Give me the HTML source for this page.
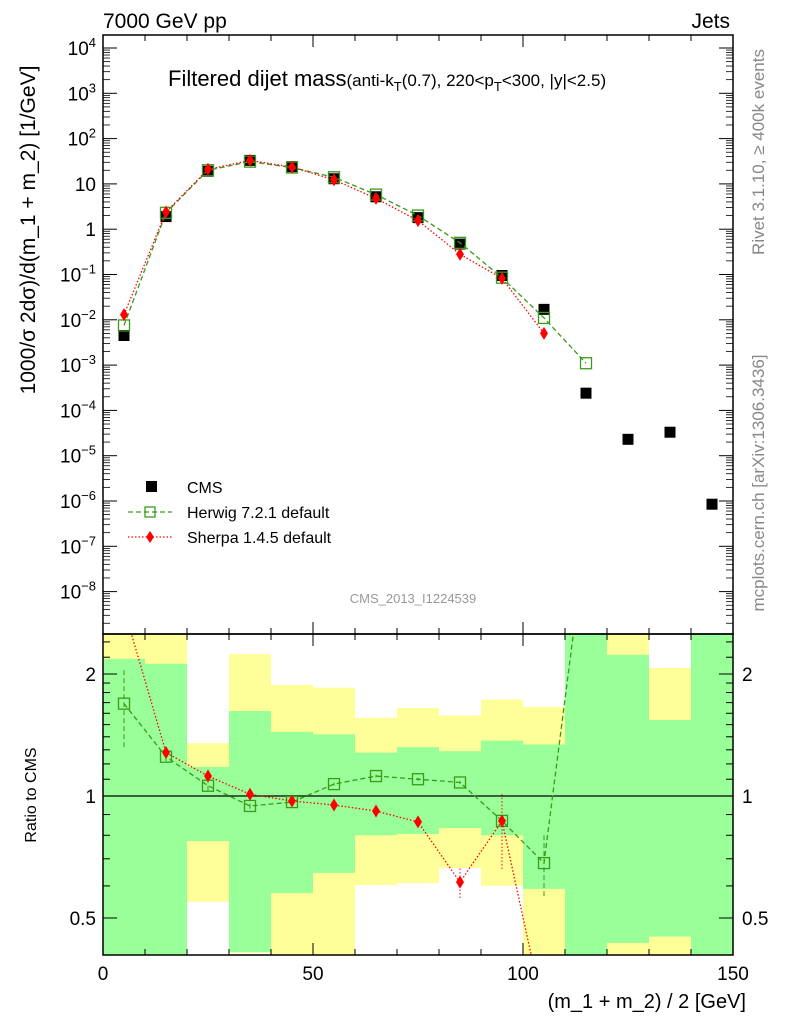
<!DOCTYPE html>
<html><head><meta charset="utf-8"><style>
body{margin:0;background:#fff;}
svg{display:block;font-family:"Liberation Sans",sans-serif;}
</style></head><body>
<svg id="chart" width="786" height="1024" viewBox="0 0 786 1024" xmlns="http://www.w3.org/2000/svg">
<g id="bands"></g>
<g id="marks"></g>
<g id="axes"></g>
<text x="103" y="28" font-size="21">7000 GeV pp</text>
<text x="730" y="28" font-size="21" text-anchor="end">Jets</text>
<text x="168" y="86" font-size="22">Filtered dijet mass<tspan font-size="17">(anti-k</tspan><tspan font-size="13" dy="5">T</tspan><tspan font-size="17" dy="-5">(0.7), 220&lt;p</tspan><tspan font-size="13" dy="5">T</tspan><tspan font-size="17" dy="-5">&lt;300, |y|&lt;2.5)</tspan></text>
<text x="413" y="603" font-size="13" fill="#999" text-anchor="middle">CMS_2013_I1224539</text>
<text transform="translate(35,230) rotate(-90)" font-size="21" text-anchor="middle">1000/σ 2dσ)/d(m_1 + m_2) [1/GeV]</text>
<text transform="translate(36,795) rotate(-90)" font-size="16" text-anchor="middle">Ratio to CMS</text>
<text x="746" y="1008" font-size="20" text-anchor="end">(m_1 + m_2) / 2 [GeV]</text>
<text transform="translate(764,152) rotate(-90)" font-size="17" fill="#888" text-anchor="middle">Rivet 3.1.10, ≥ 400k events</text>
<text transform="translate(764,483) rotate(-90)" font-size="17" fill="#888" text-anchor="middle">mcplots.cern.ch [arXiv:1306.3436]</text>
<g>
<rect x="146" y="481" width="11" height="11" fill="#000"/>
<text x="187" y="493" font-size="16">CMS</text>
<line x1="128" y1="512" x2="172" y2="512" stroke="#3a9a1a" stroke-width="1.3" stroke-dasharray="5,3"/>
<rect x="145" y="507" width="10" height="10" fill="none" stroke="#3a9a1a" stroke-width="1.3"/>
<text x="187" y="518" font-size="16">Herwig 7.2.1 default</text>
<line x1="128" y1="537" x2="172" y2="537" stroke="#f00" stroke-width="1.3" stroke-dasharray="1.5,2"/>
<path d="M150,531 L154,537 L150,543 L146,537Z" fill="#f00"/>
<text x="187" y="543" font-size="16">Sherpa 1.4.5 default</text>
</g>
</svg>
<script>
const binLo=[0,10,20,30,40,50,60,70,80,90,100,110,120,130,140];
const xCenters=[5,15,25,35,45,55,65,75,85,95,105,115,125,135,145];
const cmsVals=[4.5e-3,1.9,19,33,24,13,5.2,1.8,0.47,0.095,0.017,2.4e-4,2.3e-5,3.3e-5,8.5e-7];
const herwigX=[5,15,25,35,45,55,65,75,85,95,105,115];
const herwigVals=[7.5e-3,2.3,20,31,23,14,5.8,2.0,0.5,0.085,0.011,1.1e-3];
const sherpaX=[5,15,25,35,45,55,65,75,85,95,105];
const sherpaVals=[1.3e-2,2.4,21,33,23.5,12.3,4.8,1.55,0.28,0.082,5e-3];
const herwigRatio=[1.69,1.25,1.06,0.945,0.966,1.07,1.12,1.10,1.08,0.868,0.683,4.4];
const herwigRatioLo=[1.32,1.22,1.03,0.93,0.95,1.06,1.11,1.09,1.07,0.85,0.566,4.0];
const herwigRatioHi=[2.06,1.28,1.09,0.96,0.98,1.08,1.13,1.11,1.09,0.89,0.80,5.0];
const sherpaRatio=[2.9,1.28,1.12,1.01,0.972,0.95,0.918,0.863,0.613,0.868,0.29];
const sherpaRatioLo=[2.7,1.25,1.09,0.99,0.96,0.94,0.90,0.84,0.56,0.66,0.25];
const sherpaRatioHi=[3.1,1.31,1.15,1.03,0.985,0.96,0.93,0.89,0.67,1.02,0.33];
const yellowHi=[3,3,1.35,2.24,1.88,1.85,1.56,1.65,1.58,1.73,1.66,3,3,2.07,3];
const greenHi=[2.18,2.12,1.18,1.62,1.44,1.42,1.28,1.32,1.29,1.37,1.34,3,2.23,1.54,3];
const greenLo=[0.3,0.3,0.774,0.412,0.576,0.646,0.80,0.806,0.834,0.80,0.59,0.3,0.434,0.45,0.3];
const yellowLo=[0.3,0.3,0.548,0.41,0.3,0.3,0.603,0.61,0.664,0.60,0.3,0.3,0.3,0.3,0.3];
const xTickLabels=[0,50,100,150];
const yTickExp=[4,3,2,1,0,-1,-2,-3,-4,-5,-6,-7,-8];
const ratioTicks=[0.5,1,2];

const NS="http://www.w3.org/2000/svg";
const L=103,R=733,T=35,MID=634,B=955;
const xs=v=>L+(v/150)*(R-L);
const ys=v=>48+(4-Math.log10(v))*45.3;
const rs=v=>796-122*Math.log2(v);
const clampR=y=>Math.max(MID,Math.min(B,y));
function el(tag,attrs,parent){const e=document.createElementNS(NS,tag);for(const k in attrs)e.setAttribute(k,attrs[k]);parent.appendChild(e);return e;}
const bands=document.getElementById('bands'),marks=document.getElementById('marks'),axes=document.getElementById('axes');

binLo.forEach((lo,i)=>{
  const x1=xs(lo),x2=xs(lo+10);
  const y1=el('rect',{x:x1,y:clampR(rs(yellowHi[i])),width:x2-x1,height:clampR(rs(yellowLo[i]))-clampR(rs(yellowHi[i])),fill:'#ffff99'},bands);
  
  
  const g1=el('rect',{x:x1,y:clampR(rs(greenHi[i])),width:x2-x1,height:clampR(rs(greenLo[i]))-clampR(rs(greenHi[i])),fill:'#99ff99'},bands);
  
  
});

const defs=el('defs',{},marks);
const cp=el('clipPath',{id:'rc'},defs);el('rect',{x:L,y:MID,width:R-L,height:B-MID},cp);
const cu=el('clipPath',{id:'uc'},defs);el('rect',{x:L,y:T,width:R-L,height:MID-T},cu);
const gu=el('g',{'clip-path':'url(#uc)'},marks);
const gr=el('g',{'clip-path':'url(#rc)'},marks);

el('line',{x1:L,y1:rs(1),x2:R,y2:rs(1),stroke:'#000','stroke-width':1.3},gr);

function series(g,xArr,vals,fy,color,dash,kind,lo,hi){
  const pts=xArr.map((x,i)=>xs(x)+','+fy(vals[i])).join(' ');
  el('polyline',{points:pts,fill:'none',stroke:color,'stroke-width':1.3,'stroke-dasharray':dash},g);
  xArr.forEach((x,i)=>{
    const cx=xs(x),cy=fy(vals[i]);
    if(lo){el('line',{x1:cx,y1:fy(lo[i]),x2:cx,y2:fy(hi[i]),stroke:color,'stroke-width':1,'stroke-dasharray':dash},g);}
    let m;
    if(kind==='sq') m=el('rect',{x:cx-5.5,y:cy-5.5,width:11,height:11,fill:'none',stroke:color,'stroke-width':1.3},g);
    else m=el('path',{d:`M${cx},${cy-6.5} L${cx+4},${cy} L${cx},${cy+6.5} L${cx-4},${cy}Z`,fill:color},g);
    
    
  });
}
xCenters.forEach((x,i)=>{
  const r=el('rect',{x:xs(x)-5.5,y:ys(cmsVals[i])-5.5,width:11,height:11,fill:'#000'},gu);
  
  
});
series(gu,herwigX,herwigVals,ys,'#3a9a1a','5,3','sq');
series(gu,sherpaX,sherpaVals,ys,'#f00','1.5,2','di');
series(gr,herwigX,herwigRatio,rs,'#3a9a1a','5,3','sq',herwigRatioLo,herwigRatioHi);
series(gr,sherpaX,sherpaRatio,rs,'#f00','1.5,2','di',sherpaRatioLo,sherpaRatioHi);

el('rect',{x:L,y:T,width:R-L,height:MID-T,fill:'none',stroke:'#000','stroke-width':1.5},axes);
el('rect',{x:L,y:MID,width:R-L,height:B-MID,fill:'none',stroke:'#000','stroke-width':1.5},axes);
for(let v=0;v<=150;v+=10){
  const x=xs(v),big=v%50===0;
  [T,MID].forEach(y0=>el('line',{x1:x,y1:y0,x2:x,y2:y0+(big?12:6),stroke:'#000'},axes));
  [MID,B].forEach(y0=>el('line',{x1:x,y1:y0,x2:x,y2:y0-(big?12:6),stroke:'#000'},axes));
}
xTickLabels.forEach(v=>{const t=el('text',{x:xs(v),y:980,'font-size':19,'text-anchor':'middle'},axes);t.textContent=v;
  
  });
yTickExp.forEach(e=>{
  const y=48+(4-e)*45.3;
  [[L,1],[R,-1]].forEach(([x0,s])=>{
    el('line',{x1:x0,y1:y,x2:x0+s*14,y2:y,stroke:'#000'},axes);
    for(let k=2;k<=9;k++){const yy=y-Math.log10(k)*45.3;if(yy>T&&yy<MID)el('line',{x1:x0,y1:yy,x2:x0+s*7,y2:yy,stroke:'#000','stroke-width':0.8},axes);}
  });
  const t=el('text',{x:96,y:y+7,'font-size':19,'text-anchor':'end'},axes);
  
  
  if(e===0)t.textContent='1';else if(e===1)t.textContent='10';
  else{t.textContent='10';const s=el('tspan',{dy:-8,'font-size':13},t);s.textContent=String(e).replace('-','−');}
});
for(let k=2;k<=9;k++){const yy=48+12*45.3+(1-Math.log10(k))*45.3;if(yy<MID){el('line',{x1:L,y1:yy,x2:L+7,y2:yy,stroke:'#000','stroke-width':0.8},axes);el('line',{x1:R,y1:yy,x2:R-7,y2:yy,stroke:'#000','stroke-width':0.8},axes);}}
ratioTicks.forEach(v=>{
  const y=rs(v);
  el('line',{x1:L,y1:y,x2:L+14,y2:y,stroke:'#000'},axes);el('line',{x1:R,y1:y,x2:R-14,y2:y,stroke:'#000'},axes);
  const lab=String(v);
  const t=el('text',{x:96,y:y+7,'font-size':19,'text-anchor':'end'},axes);t.textContent=lab;
  
  
  const t2=el('text',{x:742,y:y+7,'font-size':19},axes);t2.textContent=lab;
  
  
});
[0.5,0.6,0.7,0.8,0.9,1,1.1,1.2,1.3,1.4,1.5,1.6,1.7,1.8,1.9,2,2.2,2.4].forEach(v=>{
  const y=rs(v);if(y>MID&&y<B){el('line',{x1:L,y1:y,x2:L+7,y2:y,stroke:'#000'},axes);el('line',{x1:R,y1:y,x2:R-7,y2:y,stroke:'#000'},axes);}
});
</script>
</body></html>
